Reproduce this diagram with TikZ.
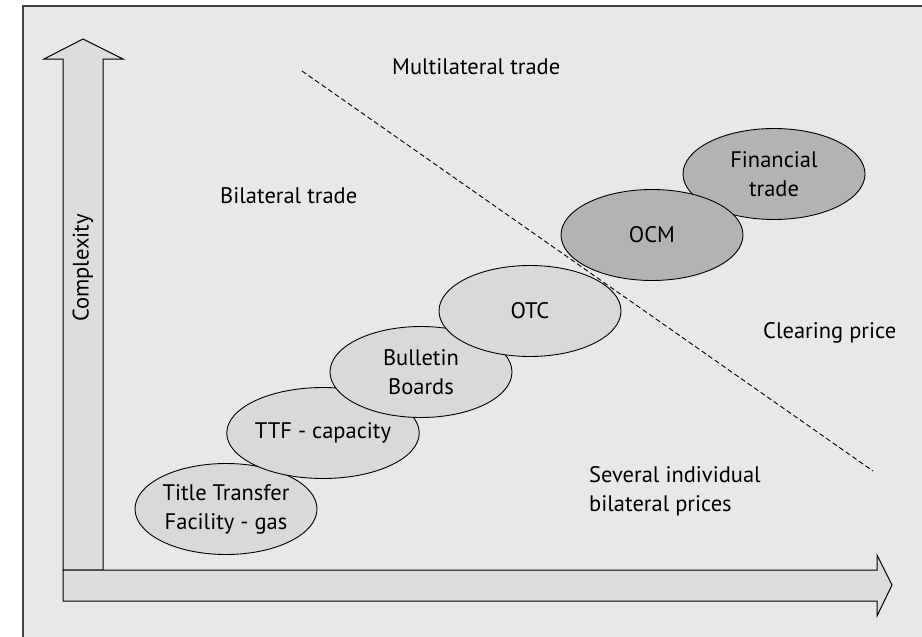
\documentclass[tikz,border=0pt]{standalone}
\usepackage{fontspec}
\setmainfont{PT Sans}
\usetikzlibrary{shapes.geometric}
\definecolor{panel}{HTML}{E8E8E8}
\definecolor{arrowfill}{HTML}{DDDDDD}
\definecolor{lightstage}{HTML}{D9D9D9}
\definecolor{darkstage}{HTML}{B3B3B3}
\definecolor{framegray}{HTML}{444444}
\begin{document}
\begin{tikzpicture}[x=1pt,y=-1pt,
  every node/.style={font=\fontsize{22.5}{29}\selectfont, text=black},
  stage/.style={ellipse, draw=black, line width=0.9pt, minimum width=182pt,
    minimum height=91pt, inner sep=0pt, align=center},
  lightstage/.style={stage, fill=lightstage},
  darkstage/.style={stage, fill=darkstage},
  axisarrow/.style={fill=arrowfill, draw=black, line width=1pt, line join=miter},
  divider/.style={draw=black, line width=0.9pt, dash pattern=on 5pt off 3pt},
  caption/.style={anchor=base west, inner sep=0pt}]
\useasboundingbox (0,0) rectangle (922,637);
\clip (0,0) rectangle (922,637);
% panel
\filldraw[fill=panel, draw=framegray, line width=1.5pt] (23,6) rectangle (940,660);
% axes
\draw[axisarrow] (63,570) -- (63,59) -- (44,59) -- (83,39) -- (123,59) -- (103,59) -- (103,570) -- cycle;
\draw[axisarrow] (63,570) -- (877,570) -- (877,555) -- (892,585) -- (877,616) -- (877,601) -- (63,601) -- cycle;
\node[rotate=90, inner sep=0pt] (complexity) at (83,268) {Complexity};
% stages
\node[lightstage] (ttfgas) at (226,509) {Title Transfer\\Facility - gas};
\node[lightstage] (ttfcap) at (323,433) {TTF - capacity};
\node[lightstage] (bulletin) at (421,372) {Bulletin\\Boards};
\node[lightstage] (otc) at (530,311) {OTC};
\node[darkstage] (financial) at (774,174) {Financial\\trade};
\node[darkstage] (ocm) at (652,235) {OCM};
% divider between bilateral and multilateral trade
\coordinate (divtop) at (302,71);
\coordinate (divbot) at (873,471);
\draw[divider] (divtop) -- (divbot);
% region labels
\node[caption] (multi) at (392,74) {Multilateral trade};
\node[caption] (bilateral) at (220,203) {Bilateral trade};
\node[caption] (clearing) at (763,338) {Clearing price};
\node[caption, align=left, anchor=north west] (several) at (589,466) {Several individual\\bilateral prices};
\end{tikzpicture}
\end{document}
